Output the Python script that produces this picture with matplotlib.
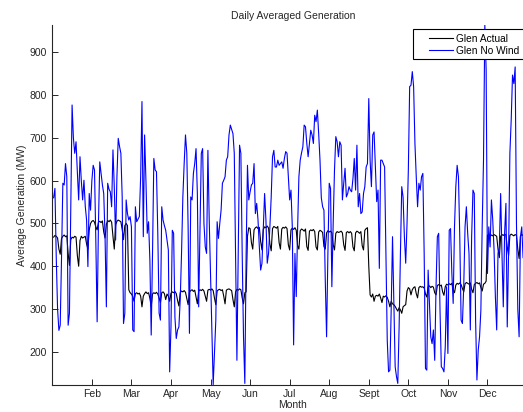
import numpy as np
import matplotlib
matplotlib.use("Agg")
import matplotlib.pyplot as plt
from matplotlib.patches import Rectangle

plt.rcParams['font.family'] = ['Liberation Sans', 'DejaVu Sans']

# Daily averaged generation (MW), one value per day, rows are weeks
glen_actual = [
    468, 472, 470, 466, 440, 428, 465,
    470, 473, 469, 471, 430, 402, 462,
    468, 466, 470, 468, 425, 400, 460,
    470, 466, 468, 470, 452, 440, 485,
    500, 505, 507, 503, 492, 485, 503,
    505, 502, 506, 480, 466, 498, 507,
    504, 508, 503, 470, 440, 497, 505,
    508, 506, 504, 486, 462, 495, 500,
    495, 345, 338, 335, 330, 318, 336,
    338, 335, 337, 330, 305, 330, 336,
    340, 336, 338, 325, 305, 335, 338,
    336, 339, 335, 326, 315, 338, 340,
    336, 322, 335, 330, 318, 337, 340,
    338, 341, 336, 320, 307, 338, 342,
    340, 343, 339, 325, 310, 340, 343,
    345, 341, 344, 328, 312, 342, 345,
    343, 346, 342, 330, 318, 344, 346,
    344, 347, 343, 325, 310, 342, 345,
    346, 343, 345, 330, 312, 344, 346,
    347, 345, 343, 322, 305, 340, 346,
    344, 347, 345, 326, 312, 338, 340,
    470, 490, 488, 455, 440, 485, 490,
    492, 488, 491, 458, 438, 486, 492,
    490, 494, 489, 452, 436, 488, 493,
    491, 489, 493, 455, 440, 487, 491,
    489, 492, 488, 450, 438, 485, 489,
    486, 490, 484, 448, 440, 483, 487,
    485, 482, 487, 446, 437, 482, 485,
    483, 486, 481, 445, 438, 480, 484,
    482, 479, 446, 440, 478, 483, 480,
    482, 478, 450, 438, 477, 481, 479,
    480, 482, 478, 450, 437, 479, 481,
    478, 481, 477, 445, 436, 478, 482,
    480, 477, 481, 448, 438, 484, 488,
    490, 400, 333, 328, 335, 318, 330,
    332, 330, 335, 326, 315, 330, 328,
    331, 327, 318, 305, 318, 312, 310,
    306, 300, 295, 303, 298, 290, 305,
    308, 310, 342, 350, 347, 333, 345,
    350, 352, 336, 326, 350, 353, 351,
    352, 349, 335, 328, 352, 354, 350,
    353, 351, 338, 333, 355, 357, 354,
    356, 340, 332, 352, 358, 356, 359,
    357, 360, 345, 338, 356, 360, 358,
    361, 357, 348, 340, 359, 362, 360,
    358, 361, 346, 338, 357, 360, 362,
    359, 361, 350, 342, 358, 360, 365,
    472, 475, 470, 473, 471, 474, 472,
    470, 440, 420, 470, 474, 472, 475,
    473, 445, 425, 472, 475, 473, 471,
    474, 472, 440, 418, 470, 474, 472,
]

glen_no_wind = [
    560, 582, 420, 300, 250, 262, 420,
    594, 590, 640, 609, 262, 290, 530,
    777, 700, 664, 691, 620, 555, 656,
    600, 555, 601, 540, 508, 399, 570,
    531, 600, 636, 625, 461, 270, 500,
    644, 617, 590, 570, 469, 305, 594,
    580, 574, 539, 672, 586, 461, 609,
    699, 680, 664, 562, 266, 290, 555,
    523, 508, 516, 492, 251, 247, 539,
    504, 510, 516, 609, 785, 469, 707,
    601, 477, 504, 414, 239, 430, 652,
    625, 621, 477, 290, 274, 539, 508,
    495, 484, 461, 438, 153, 258, 484,
    477, 280, 231, 251, 258, 321, 430,
    562, 640, 707, 664, 492, 243, 562,
    555, 617, 640, 675, 570, 305, 492,
    664, 675, 500, 445, 430, 671, 508,
    380, 258, 123, 200, 274, 504, 465,
    500, 531, 594, 601, 609, 648, 656,
    707, 730, 720, 710, 664, 430, 180,
    438, 683, 664, 430, 235, 126, 430,
    636, 555, 574, 590, 594, 640, 523,
    547, 508, 445, 391, 407, 492, 570,
    508, 407, 430, 492, 562, 656, 671,
    632, 632, 648, 636, 640, 644, 629,
    652, 668, 664, 609, 555, 578, 492,
    216, 430, 329, 484, 609, 648, 665,
    679, 730, 726, 687, 656, 687, 718,
    707, 687, 753, 738, 765, 710, 648,
    560, 539, 531, 368, 235, 430, 594,
    582, 352, 500, 625, 703, 691, 656,
    691, 683, 555, 594, 629, 562, 570,
    586, 578, 574, 605, 652, 578, 683,
    539, 570, 523, 527, 570, 586, 632,
    640, 792, 648, 586, 707, 714, 630,
    551, 578, 395, 648, 648, 640, 632,
    430, 227, 153, 157, 300, 469, 321,
    165, 142, 126, 258, 430, 586, 562,
    469, 407, 500, 625, 820, 823, 855,
    820, 687, 609, 539, 594, 578, 609,
    617, 430, 161, 157, 391, 313, 235,
    219, 251, 180, 352, 469, 477, 300,
    165, 161, 153, 212, 352, 196, 484,
    488, 383, 313, 492, 586, 636, 609,
    469, 274, 266, 352, 492, 539, 477,
    430, 251, 469, 578, 570, 274, 134,
    204, 235, 297, 492, 648, 964, 859,
    383, 492, 445, 555, 508, 438, 329,
    251, 430, 445, 570, 430, 305, 477,
    547, 258, 430, 664, 742, 847, 827,
    866, 500, 300, 235, 469, 492, 420,
]

month_labels = ['Feb', 'Mar', 'Apr', 'May', 'Jun', 'Jul', 'Aug',
                'Sept', 'Oct', 'Nov', 'Dec']
month_ticks = [30, 60, 90, 120, 150, 180, 210, 240, 270, 300, 330]

days = np.arange(1, len(glen_actual) + 1)

W, H = 523, 412
FS = 7.5
fig = plt.figure(figsize=(W / 100, H / 100), dpi=100)
ax = fig.add_axes([0.1, 0.0663, 0.9203, 0.8730])

ax.plot(days, glen_actual, color='black', lw=0.8, label='Glen Actual')
ax.plot(days, glen_no_wind, color='#0000ff', lw=0.8, label='Glen No Wind')

ax.set_xlim(0, 365)
ax.set_ylim(123, 964)
ax.set_xticks(month_ticks)
ax.set_xticklabels(month_labels)
ax.set_yticks(range(200, 901, 100))

for side in ['top', 'right']:
    ax.spines[side].set_visible(False)
for side in ['left', 'bottom']:
    ax.spines[side].set_color('#262626')
    ax.spines[side].set_linewidth(0.8)

ax.tick_params(direction='in', length=4, width=0.7, color='#262626',
               labelsize=FS, labelcolor='#262626', pad=4)
ax.tick_params(axis='x', pad=3)

ax.set_title('Daily Averaged Generation', fontsize=FS, color='#262626', pad=4)
ax.set_xlabel('Month', fontsize=FS, color='#262626', labelpad=0.5)
ax.set_ylabel('Average Generation (MW)', fontsize=FS, color='#262626', labelpad=2)

# legend box runs past the right edge of the figure
box = Rectangle((413 / W, 1 - 59 / H), 130 / W, 29.7 / H,
                transform=fig.transFigure, facecolor='white',
                edgecolor='black', lw=0.8, zorder=4.5, clip_on=False)
ax.add_patch(box)

leg = ax.legend(loc='upper left', bbox_to_anchor=(429 / W, 1 - 33.5 / H),
                bbox_transform=fig.transFigure,
                fontsize=7.3, frameon=False,
                handlelength=2.4, handletextpad=0.3, borderpad=0,
                labelspacing=0.25, borderaxespad=0)
leg.set_zorder(5)

plt.savefig('out.png', dpi=100)
